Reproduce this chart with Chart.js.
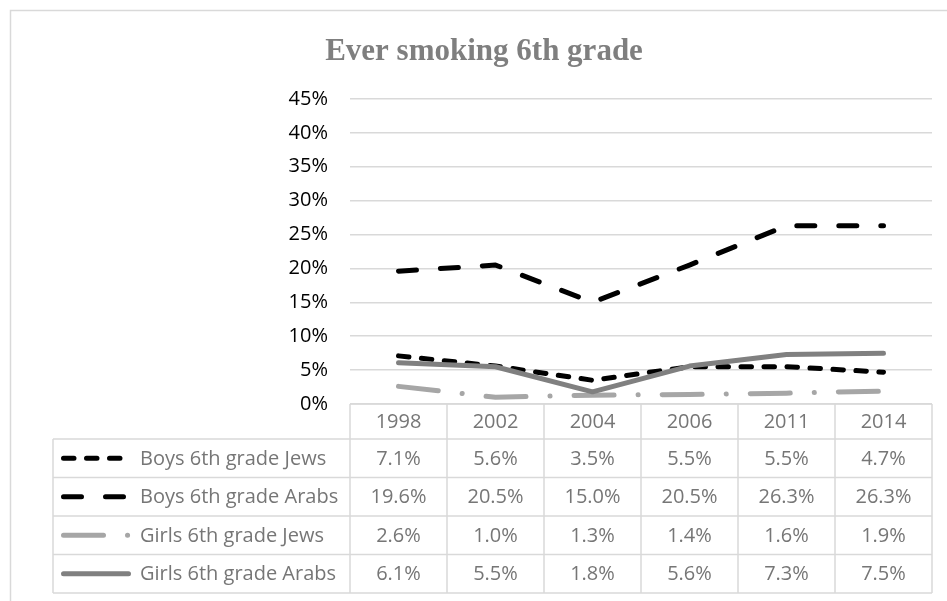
<!DOCTYPE html>
<html lang="en">
<head>
<meta charset="UTF-8">
<title>Ever smoking 6th grade</title>
<script src="https://cdn.jsdelivr.net/npm/chart.js@4.4.1/dist/chart.umd.min.js"></script>
<style>
    html, body { margin: 0; padding: 0; background: #fff; }
    canvas { display: block; }
</style>
</head>
<body>
<canvas id="chart" width="947" height="601"></canvas>
<script>
    // Data
    const years = ['1998', '2002', '2004', '2006', '2011', '2014'];
    const seriesNames = ['Boys 6th grade Jews', 'Boys 6th grade Arabs', 'Girls 6th grade Jews', 'Girls 6th grade Arabs'];
    const boysJews = [7.1, 5.6, 3.5, 5.5, 5.5, 4.7];
    const boysArabs = [19.6, 20.5, 15.0, 20.5, 26.3, 26.3];
    const girlsJews = [2.6, 1.0, 1.3, 1.4, 1.6, 1.9];
    const girlsArabs = [6.1, 5.5, 1.8, 5.6, 7.3, 7.5];
    const yTicks = [0, 5, 10, 15, 20, 25, 30, 35, 40, 45];
    const chartTitle = 'Ever smoking 6th grade';

    const font = '"Open Sans", "Liberation Sans", sans-serif';
    const gridColor = '#d9d9d9';
    const tableText = '#767676';

    const lineStyle = (color, dash, order) => ({
        borderColor: color,
        backgroundColor: color,
        borderWidth: 5,
        borderDash: dash,
        borderCapStyle: 'round',
        borderJoinStyle: 'round',
        pointRadius: 0,
        tension: 0,
        fill: false,
        order: order
    });

    // Title, outer frame and data table (with legend keys) under the plot
    const tablePlugin = {
        id: 'dataTable',
        afterDraw(chart) {
            const ctx = chart.ctx;
            const area = chart.chartArea;
            const x = chart.scales.x;
            const tableLeft = 53;
            const headH = 35;
            const rowH = 38.5;
            const top = area.bottom;
            const headBottom = top + headH;
            const bottom = headBottom + rowH * seriesNames.length;

            ctx.save();

            // outer chart frame (right and bottom are off the picture)
            ctx.strokeStyle = gridColor;
            ctx.lineWidth = 1.5;
            ctx.beginPath();
            ctx.moveTo(10.5, chart.height);
            ctx.lineTo(10.5, 10.5);
            ctx.lineTo(chart.width, 10.5);
            ctx.stroke();

            // title
            ctx.fillStyle = '#7f7f7f';
            ctx.font = 'bold 31px "Liberation Serif", "Times New Roman", serif';
            ctx.textAlign = 'center';
            ctx.textBaseline = 'alphabetic';
            ctx.fillText(chartTitle, 484, 60);

            // column edges from the category scale
            const edges = [area.left];
            for (let i = 0; i < years.length - 1; i++) {
                edges.push((x.getPixelForValue(i) + x.getPixelForValue(i + 1)) / 2);
            }
            edges.push(area.right);

            // grid
            ctx.strokeStyle = gridColor;
            ctx.lineWidth = 1.5;
            ctx.beginPath();
            ctx.moveTo(area.left, top);
            ctx.lineTo(area.right, top);
            for (let r = 0; r <= seriesNames.length; r++) {
                const y = headBottom + r * rowH;
                ctx.moveTo(tableLeft, y);
                ctx.lineTo(area.right, y);
            }
            edges.forEach(e => {
                ctx.moveTo(e, top);
                ctx.lineTo(e, bottom);
            });
            ctx.moveTo(tableLeft, headBottom);
            ctx.lineTo(tableLeft, bottom);
            ctx.stroke();

            // header years
            ctx.fillStyle = tableText;
            ctx.font = '20px ' + font;
            ctx.textAlign = 'center';
            ctx.textBaseline = 'middle';
            years.forEach((yr, i) => {
                ctx.fillText(yr, x.getPixelForValue(i), top + headH / 2 + 1);
            });

            // rows
            chart.data.datasets.forEach((ds, r) => {
                const cy = headBottom + r * rowH + rowH / 2;

                // legend key
                ctx.save();
                ctx.strokeStyle = ds.borderColor;
                ctx.lineWidth = ds.borderWidth;
                ctx.lineCap = 'round';
                ctx.setLineDash(ds.borderDash || []);
                ctx.beginPath();
                ctx.moveTo(63.5, cy);
                ctx.lineTo(128.5, cy);
                ctx.stroke();
                ctx.restore();

                ctx.fillStyle = tableText;
                ctx.textAlign = 'left';
                ctx.fillText(ds.label, 140, cy + 1);

                ctx.textAlign = 'center';
                ds.data.forEach((v, i) => {
                    ctx.fillText(v.toFixed(1) + '%', x.getPixelForValue(i), cy + 1);
                });
            });

            ctx.restore();
        }
    };

    new Chart(document.getElementById('chart'), {
        type: 'line',
        data: {
            labels: years,
            datasets: [
                Object.assign({ label: seriesNames[0], data: boysJews }, lineStyle('#000000', [10.5, 12.5], 4)),
                Object.assign({ label: seriesNames[1], data: boysArabs }, lineStyle('#000000', [18, 24], 3)),
                Object.assign({ label: seriesNames[2], data: girlsJews }, lineStyle('#a6a6a6', [40, 24, 0.1, 24], 2)),
                Object.assign({ label: seriesNames[3], data: girlsArabs }, lineStyle('#808080', [], 1))
            ]
        },
        options: {
            responsive: false,
            animation: false,
            layout: {
                padding: { left: 0, top: 99, right: 15, bottom: 197 }
            },
            plugins: {
                legend: { display: false },
                title: { display: false },
                tooltip: { enabled: false }
            },
            scales: {
                x: {
                    type: 'category',
                    display: false,
                    offset: true
                },
                y: {
                    min: yTicks[0],
                    max: yTicks[yTicks.length - 1],
                    afterFit: scale => { scale.width = 350; },
                    afterBuildTicks: scale => {
                        scale.ticks = yTicks.map(v => ({ value: v }));
                    },
                    border: { display: false },
                    grid: {
                        color: gridColor,
                        lineWidth: 1.5,
                        drawTicks: false
                    },
                    ticks: {
                        padding: 22,
                        color: '#000000',
                        font: { family: font, size: 20 },
                        callback: v => v + '%'
                    }
                }
            }
        },
        plugins: [tablePlugin]
    });
</script>
</body>
</html>
